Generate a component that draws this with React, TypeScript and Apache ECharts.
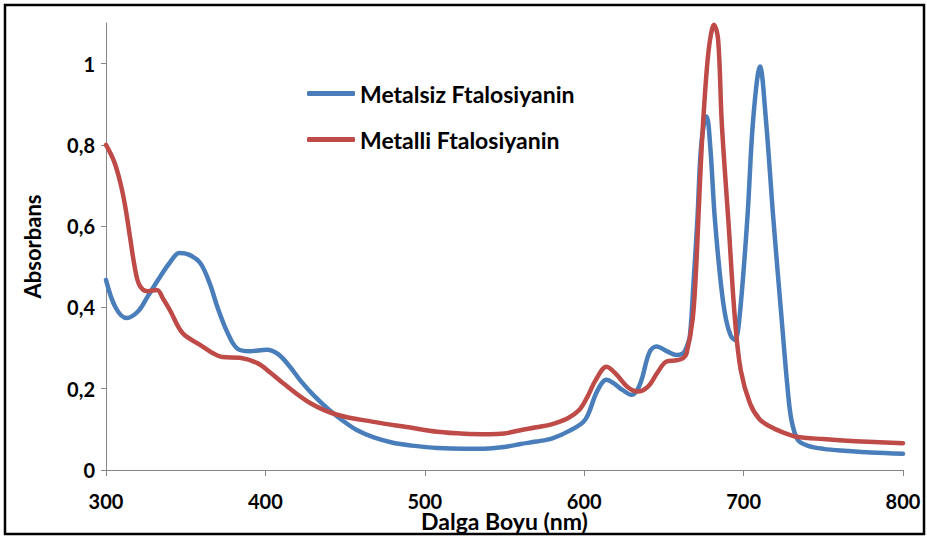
import React, { useEffect, useRef } from "react";
import * as echarts from "echarts";

const seriesNames = ["Metalsiz Ftalosiyanin", "Metalli Ftalosiyanin"];

const blueX = [300, 306, 313, 320, 326, 333, 340, 346, 352, 359, 365, 370, 376, 382, 390, 401, 408, 415, 422, 430, 440, 449, 457, 468, 480, 492, 508, 525, 540, 552, 560, 570, 580, 590, 600.5, 608, 614, 619, 624, 629.7, 633, 636, 641, 645.4, 652, 658, 662, 664, 666.3, 668.4, 671, 673, 675, 676.8, 679, 682, 686, 689, 692, 694.6, 697.3, 702.3, 706, 710.3, 714, 718.7, 723.9, 727.5, 730, 734, 740, 750, 765, 780, 800];
const blueY = [0.468, 0.4, 0.374, 0.39, 0.426, 0.47, 0.51, 0.534, 0.53, 0.51, 0.46, 0.4, 0.34, 0.3, 0.292, 0.296, 0.285, 0.256, 0.22, 0.185, 0.148, 0.12, 0.099, 0.08, 0.067, 0.06, 0.054, 0.052, 0.053, 0.058, 0.064, 0.07, 0.078, 0.095, 0.123, 0.193, 0.222, 0.212, 0.197, 0.185, 0.195, 0.222, 0.29, 0.304, 0.292, 0.283, 0.287, 0.3, 0.33, 0.45, 0.616, 0.78, 0.85, 0.87, 0.8, 0.616, 0.45, 0.37, 0.33, 0.32, 0.37, 0.616, 0.862, 0.993, 0.862, 0.616, 0.37, 0.205, 0.123, 0.074, 0.06, 0.052, 0.047, 0.043, 0.04];

const redX = [300, 305, 309, 312, 315, 318, 321, 326, 332, 336, 340, 348, 359, 366, 373, 384, 395, 403, 411, 428, 445, 467, 490, 508, 525, 540, 550, 560, 570, 580, 590, 597, 602, 607, 614, 620, 627, 633.5, 640, 646, 651.7, 658, 662, 664.2, 668, 670, 671.6, 673, 674.7, 677, 679, 681.4, 684, 686.2, 688, 690.4, 694.6, 698.2, 704, 710, 716.6, 725, 733, 750, 770, 800];
const redY = [0.8, 0.76, 0.707, 0.65, 0.575, 0.5, 0.455, 0.44, 0.443, 0.42, 0.394, 0.337, 0.308, 0.29, 0.278, 0.276, 0.263, 0.24, 0.214, 0.165, 0.136, 0.119, 0.105, 0.094, 0.089, 0.088, 0.09, 0.098, 0.105, 0.113, 0.128, 0.148, 0.18, 0.22, 0.254, 0.236, 0.205, 0.193, 0.205, 0.24, 0.267, 0.27, 0.275, 0.287, 0.37, 0.48, 0.616, 0.74, 0.862, 0.99, 1.06, 1.096, 1.06, 0.862, 0.75, 0.616, 0.37, 0.246, 0.164, 0.125, 0.107, 0.092, 0.082, 0.076, 0.071, 0.066];

const xTicks = [300, 400, 500, 600, 700, 800];
const yTicks = [0, 0.2, 0.4, 0.6, 0.8, 1];

const colors = ["#4A7EBB", "#BE4B48"];
const FONT = "Lato";

export default function App() {
  const ref = useRef<HTMLDivElement>(null);
  useEffect(() => {
    if (!ref.current) return;
    const chart = echarts.init(ref.current, null, { renderer: "svg" });
    const pairs = (xs: number[], ys: number[]) => xs.map((x, i) => [x, ys[i]]);
    chart.setOption({
      animation: false,
      backgroundColor: "#ffffff",
      grid: { left: 106, right: 24, top: 23, bottom: 68, containLabel: false, outerBoundsMode: "none" },
      legend: {
        orient: "vertical",
        left: 302,
        top: 77,
        itemWidth: 48,
        itemHeight: 5,
        itemGap: 23,
        icon: "roundRect",
        textStyle: { fontFamily: FONT, fontWeight: "bold", fontSize: 23, color: "#000" },
        data: seriesNames,
      },
      xAxis: {
        type: "value",
        min: 300,
        max: 800,
        interval: 100,
        name: "Dalga Boyu (nm)",
        nameLocation: "middle",
        nameGap: 40,
        nameMoveOverlap: false,
        nameTextStyle: { fontFamily: FONT, fontWeight: "bold", fontSize: 23, lineHeight: 22, color: "#000" },
        axisLine: { show: true, lineStyle: { color: "#868686", width: 1 } },
        axisTick: { show: true, length: 6, lineStyle: { color: "#868686" }, customValues: xTicks },
        axisLabel: {
          fontFamily: FONT, fontWeight: "bold", fontSize: 20, lineHeight: 18, color: "#000", margin: 22,
          customValues: xTicks,
        },
        splitLine: { show: false },
      },
      yAxis: {
        type: "value",
        min: 0,
        max: 1.1,
        interval: 0.2,
        name: "Absorbans",
        nameLocation: "middle",
        nameGap: 63,
        nameMoveOverlap: false,
        nameRotate: 90,
        nameTextStyle: { fontFamily: FONT, fontWeight: "bold", fontSize: 22, color: "#000" },
        axisLine: { show: true, lineStyle: { color: "#868686", width: 1 } },
        axisTick: { show: true, length: 5, lineStyle: { color: "#868686" }, customValues: yTicks },
        axisLabel: {
          fontFamily: FONT, fontWeight: "bold", fontSize: 20, color: "#000", margin: 11,
          customValues: yTicks,
          formatter: (v: number) => String(Math.round(v * 10) / 10).replace(".", ","),
        },
        splitLine: { show: false },
      },
      series: [
        {
          name: seriesNames[0],
          type: "line",
          data: pairs(blueX, blueY),
          smooth: 0.35,
          showSymbol: false,
          symbol: "none",
          lineStyle: { color: colors[0], width: 4.5, cap: "round", join: "round" },
          itemStyle: { color: colors[0] },
        },
        {
          name: seriesNames[1],
          type: "line",
          data: pairs(redX, redY),
          smooth: 0.35,
          showSymbol: false,
          symbol: "none",
          lineStyle: { color: colors[1], width: 4.5, cap: "round", join: "round" },
          itemStyle: { color: colors[1] },
        },
      ],
      graphic: [
        {
          type: "rect",
          shape: { x: 5, y: 5, width: 919, height: 529 },
          style: { fill: "none", stroke: "#000", lineWidth: 2.5 },
          silent: true,
        },
      ],
    });
    return () => chart.dispose();
  }, []);
  return (
    <div
      ref={ref}
      style={{ position: "absolute", left: 0, top: 0, width: 927, height: 538 }}
    />
  );
}
